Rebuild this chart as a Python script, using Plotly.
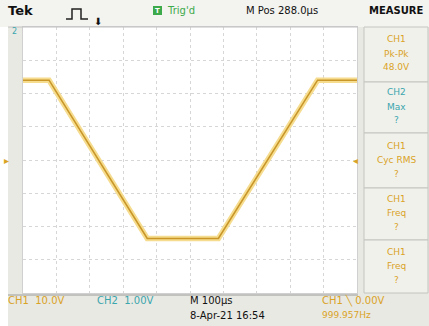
import plotly.graph_objects as go

# ---- data (time in microseconds, CH1 volts) ----
time_us = [0, 78, 372, 585, 882, 1000]
ch1_volts = [24.0, 24.0, -23.6, -23.6, 24.0, 24.0]

x_ticks = [0, 100, 200, 300, 400, 500, 600, 700, 800, 900, 1000]
y_ticks = [-40, -30, -20, -10, 0, 10, 20, 30, 40]

measure_boxes = [
    ("CH1", "Pk-Pk", "48.0V", "#d9a326"),
    ("CH2", "Max", "?", "#3aa6ad"),
    ("CH1", "Cyc RMS", "?", "#d9a326"),
    ("CH1", "Freq", "?", "#d9a326"),
    ("CH1", "Freq", "?", "#d9a326"),
]

# ---- layout geometry (screen pixels) ----
W_FIG, H_FIG = 429, 326
L, R, T, B = 23, 357, 27, 293
PW, PH = R - L, B - T


def px(x):
    return (x - L) / PW


def py(y):
    return (B - y) / PH


fig = go.Figure()

fig.add_trace(go.Scatter(x=time_us, y=ch1_volts, mode="lines",
                         line=dict(color="#f5dc8e", width=5.5), hoverinfo="skip",
                         showlegend=False))
fig.add_trace(go.Scatter(x=time_us, y=ch1_volts, mode="lines",
                         line=dict(color="#c99628", width=1.6),
                         showlegend=False))

shapes = []
# top bar
shapes.append(dict(type="rect", xref="paper", yref="paper", x0=px(0), x1=px(W_FIG),
                   y0=py(T), y1=py(0), fillcolor="#f3f3ef", line=dict(width=0), layer="below"))
# left white strip
shapes.append(dict(type="rect", xref="paper", yref="paper", x0=px(0), x1=px(8),
                   y0=py(H_FIG), y1=py(T), fillcolor="#ffffff", line=dict(width=0), layer="below"))
# separator line under top bar
shapes.append(dict(type="line", xref="paper", yref="paper", x0=px(8), x1=px(358),
                   y0=py(T), y1=py(T), line=dict(color="#c0c0c0", width=1)))
# bottom separator
shapes.append(dict(type="line", xref="paper", yref="paper", x0=px(8), x1=px(358),
                   y0=py(B + 2), y1=py(B + 2), line=dict(color="#9a9a9a", width=1)))

# measure boxes
box_edges = [27, 82, 133, 188, 240, 293]
annotations = []
for i, (ch, name, val, col) in enumerate(measure_boxes):
    y0, y1 = box_edges[i], box_edges[i + 1]
    shapes.append(dict(type="rect", xref="paper", yref="paper",
                       x0=px(364), x1=px(428), y0=py(y1), y1=py(y0),
                       fillcolor="#f1f1ec", line=dict(color="#c4c4c0", width=1),
                       layer="below"))
    cy = (y0 + y1) / 2
    for k, txt in enumerate([ch, name, val]):
        annotations.append(dict(xref="paper", yref="paper", x=px(396),
                                y=py(cy - 15 + k * 14), text=txt, showarrow=False,
                                font=dict(family="DejaVu Sans", size=9, color=col),
                                xanchor="center", yanchor="middle"))

# pulse icon
pulse_pts = [(66, 19), (72, 19), (72, 9), (81, 9), (81, 19), (88, 19)]
path = "M " + " L ".join(f"{px(a)},{py(b)}" for a, b in pulse_pts)
shapes.append(dict(type="path", xref="paper", yref="paper", path=path,
                   line=dict(color="#222222", width=1.5)))
# green trig square
shapes.append(dict(type="rect", xref="paper", yref="paper", x0=px(153), x1=px(162),
                   y0=py(15), y1=py(6), fillcolor="#3caa4a", line=dict(width=0)))


def text(x, y, s, color="#111111", size=10, bold=False, anchor="left", family="DejaVu Sans"):
    if bold:
        s = f"<b>{s}</b>"
    annotations.append(dict(xref="paper", yref="paper", x=px(x), y=py(y), text=s,
                            showarrow=False, xanchor=anchor, yanchor="middle",
                            font=dict(family=family, size=size, color=color)))


text(6, 10, "Tek", size=13, bold=True)
text(92, 22, "⬇", size=10)
text(157.5, 10.5, "T", color="#ffffff", size=7, anchor="center", bold=True)
text(165, 10, "Trig'd", color="#3caa4a", size=10)
text(244, 10, "M Pos 288.0µs", size=10)
text(396, 10, "MEASURE", size=10, bold=True, anchor="center")
text(10, 31, "2", color="#3aa6ad", size=8)
text(2, 160, "▸", color="#d9a326", size=10)
text(351, 160, "◂", color="#d9a326", size=10)
text(6, 300, "CH1  10.0V", color="#d9a326", size=10)
text(95, 300, "CH2  1.00V", color="#3aa6ad", size=10)
text(188, 300, "M 100µs", size=10)
text(188, 315, "8-Apr-21 16:54", size=10)
text(320, 300, "CH1 ╲ 0.00V", color="#d9a326", size=10)
text(320, 315, "999.957Hz", color="#d9a326", size=9)

fig.update_layout(
    width=W_FIG, height=H_FIG,
    margin=dict(l=L, r=W_FIG - R, t=T, b=H_FIG - B, pad=0),
    paper_bgcolor="#e9e9e3",
    plot_bgcolor="#ffffff",
    shapes=shapes,
    annotations=annotations,
    showlegend=False,
)
fig.update_xaxes(range=[0, 1000], tickvals=x_ticks, showticklabels=False,
                 showgrid=True, gridcolor="#d6d6d6", griddash="dot", gridwidth=1,
                 zeroline=False, showline=True, linecolor="#d0d0d0", mirror=True,
                 fixedrange=True)
fig.update_yaxes(range=[-40, 40], tickvals=y_ticks, showticklabels=False,
                 showgrid=True, gridcolor="#d6d6d6", griddash="dot", gridwidth=1,
                 zeroline=False, showline=True, linecolor="#d0d0d0", mirror=True,
                 fixedrange=True)

fig.write_html("out.html", config={"displayModeBar": False},
               post_script="document.body.style.margin='0px';document.body.style.overflow='hidden';")
